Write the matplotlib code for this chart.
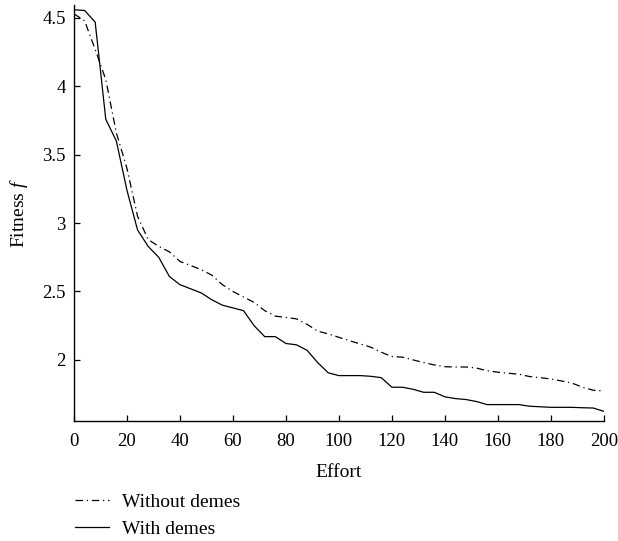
import matplotlib
matplotlib.use("Agg")
import matplotlib.pyplot as plt
from matplotlib.ticker import FixedLocator

effort = list(range(0, 201, 4))
with_demes = [4.56, 4.555, 4.47, 3.76, 3.60, 3.24, 2.95, 2.83, 2.75, 2.61, 2.55,
              2.52, 2.49, 2.44, 2.40, 2.38, 2.36, 2.25, 2.17, 2.17, 2.12,
              2.11, 2.07, 1.98, 1.905, 1.885, 1.885, 1.885, 1.88, 1.87, 1.80,
              1.80, 1.785, 1.763, 1.763, 1.73, 1.717, 1.71, 1.695, 1.673, 1.673,
              1.673, 1.673, 1.661, 1.657, 1.653, 1.653, 1.653, 1.65, 1.648, 1.624]
without_demes = [4.53, 4.48, 4.27, 4.05, 3.66, 3.40, 3.05, 2.88, 2.83, 2.79, 2.72,
                 2.69, 2.66, 2.62, 2.55, 2.50, 2.46, 2.42, 2.36, 2.32, 2.31,
                 2.30, 2.26, 2.21, 2.19, 2.165, 2.14, 2.117, 2.093, 2.056, 2.024,
                 2.02, 2.00, 1.98, 1.963, 1.95, 1.948, 1.948, 1.94, 1.92, 1.91,
                 1.902, 1.895, 1.878, 1.87, 1.86, 1.846, 1.83, 1.80, 1.778, 1.773]
xticks = [0, 20, 40, 60, 80, 100, 120, 140, 160, 180, 200]
yticks = [2, 2.5, 3, 3.5, 4, 4.5]
ytick_labels = ["2", "2.5", "3", "3.5", "4", "4.5"]

plt.rcParams['font.family'] = ['Liberation Serif', 'DejaVu Serif']
plt.rcParams['mathtext.fontset'] = 'custom'
plt.rcParams['mathtext.it'] = 'Liberation Serif:italic'
plt.rcParams['mathtext.rm'] = 'Liberation Serif'

fig = plt.figure(figsize=(6.18, 5.41), dpi=100)
ax = fig.add_axes([0.1197, 0.2218, 0.8573, 0.769])

l1, = ax.plot(effort, without_demes, color='black', lw=0.9,
              dashes=(6, 3, 1, 3), label='Without demes')
l2, = ax.plot(effort, with_demes, color='black', lw=0.9, label='With demes')

ax.set_xlim(0, 200)
ax.set_ylim(1.553, 4.595)
ax.xaxis.set_major_locator(FixedLocator(xticks))
ax.set_yticks(yticks)
ax.set_yticklabels(ytick_labels)
for s in ['top', 'right']:
    ax.spines[s].set_visible(False)
for s in ['left', 'bottom']:
    ax.spines[s].set_linewidth(1.0)
ax.tick_params(direction='in', length=4, width=0.9, labelsize=13.5)
ax.tick_params(axis='x', pad=8.5)
ax.tick_params(axis='y', pad=6)
ax.set_xlabel('Effort', fontsize=14, labelpad=10)
ax.set_ylabel('Fitness $f$', fontsize=14, labelpad=9)

fig.legend(handles=[l1, l2], loc='upper left', bbox_to_anchor=(0.1214, 0.0887),
           frameon=False, fontsize=14, handlelength=1.75, handletextpad=0.67,
           labelspacing=0.5, borderaxespad=0, borderpad=0)

fig.savefig('out.png', dpi=100)
